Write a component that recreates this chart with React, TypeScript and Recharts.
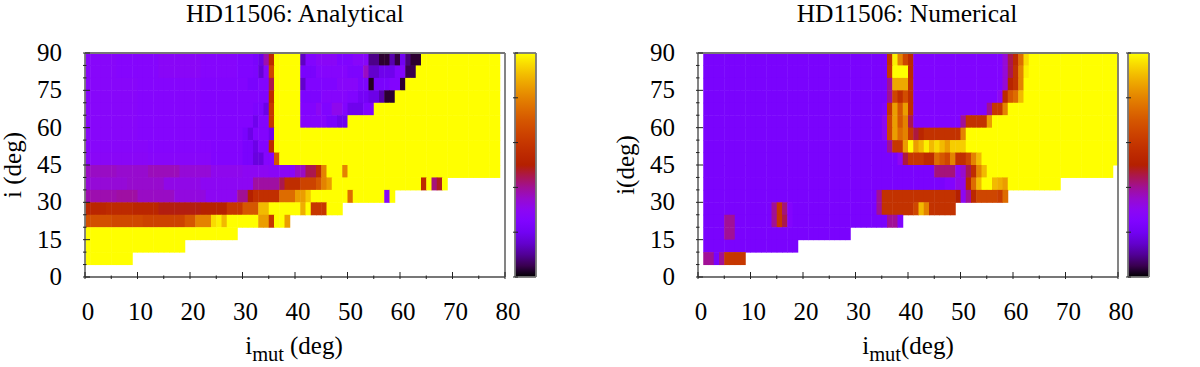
import { ScatterChart, Scatter, BarChart, Bar, XAxis, YAxis } from "recharts";

// inclination rows, lower edge in deg (each row is 5 deg tall)
const rowEdges = [85, 80, 75, 70, 65, 60, 55, 50, 45, 40, 35, 30, 25, 20, 15, 10, 5];

// each row is a list of [value, end column]; a run lasts until the end column (exclusive)
const a85 = [[2.8,6],[2.7,14],[2.9,22],[2.7,29],[2.5,32],[2.3,33],[1.8,34],[3.8,35],[5.5,36],[10,41],[1.4,42],[2.6,44],[2.9,48],[2.5,51],[2.8,54],[0.9,56],[0.3,58],[1.2,59],[0.4,60],[2,61],[0.8,62],[0.3,64],[10,79]];
const a80 = [[2.8,6],[2.7,14],[2.9,22],[2.7,29],[2.5,32],[2.4,33],[1.6,34],[2.8,35],[6.5,36],[10,41],[2.3,44],[2.7,50],[2.4,53],[3.6,54],[1.5,56],[1.9,59],[2.6,61],[0.5,63],[10,79]];
const a75 = [[2.8,10],[2.7,22],[2.6,31],[2.3,33],[2.6,35],[4.5,36],[10,41],[1.5,42],[2.5,48],[2.8,52],[2.4,54],[0.2,55],[2.3,58],[2.6,60],[0.3,61],[10,79]];
const a70 = [[2.8,10],[2.7,22],[2.6,33],[2.5,35],[5.5,36],[10,41],[2.4,45],[2.7,50],[2.5,52],[2.1,54],[1.8,56],[1.2,57],[0.3,59],[10,79]];
const a65 = [[2.8,10],[2.7,22],[2.6,32],[2.4,34],[1.8,35],[6,36],[10,41],[2.6,44],[3,45],[2.5,47],[3.1,49],[2.6,50],[1.9,53],[2.5,55],[10,79]];
const a60 = [[2.8,10],[2.7,22],[2.6,32],[1.9,33],[2.6,35],[6,36],[10,41],[2.7,46],[2.3,48],[1.9,50],[10,79]];
const a55 = [[2.8,10],[2.7,22],[2.6,30],[2.3,31],[1.8,32],[2.6,35],[1.9,36],[10,79]];
const a50 = [[2.8,12],[2.7,24],[2.6,30],[2.3,32],[1.8,33],[2.6,35],[5.5,36],[10,79]];
const a45 = [[2.9,12],[2.8,24],[2.6,30],[2.3,32],[1.7,34],[2.7,36],[7,37],[10,79]];
const a40 = [[3.6,6],[3.5,12],[3.7,18],[3.4,24],[3.1,30],[3,35],[2.9,40],[3.6,42],[4.5,44],[5.6,45],[8,46],[10,49],[8,50],[10,79]];
const a35 = [[3.4,8],[3.5,15],[3.2,22],[3,32],[3.9,37],[4.5,38],[5.6,41],[6.4,44],[7,45],[8,46],[8.5,47],[10,64],[5.5,65],[10,66],[4.2,67],[4.8,68],[10,69]];
const a30 = [[3.8,6],[3.9,10],[3.6,17],[3.3,23],[3,29],[4,31],[5,32],[5.7,37],[7.5,40],[8.5,42],[9.2,43],[10,50],[7.5,51],[10,57],[2.8,58],[10,59]];
const a25 = [[5.3,4],[5.5,9],[5.3,14],[4.9,22],[5.1,27],[6,30],[7,33],[9,35],[10,41],[8.8,42],[10,43],[6,46],[10,49]];
const a20 = [[6.8,5],[6.6,11],[6.4,19],[7,21],[8,24],[9.5,25],[9.8,26],[9,27],[10,33],[8.5,35],[6,36],[10,38],[8.5,39]];
const a15 = [[10,29]];
const a10 = [[10,19]];
const a5 = [[10,9]];
const analytical = [a85, a80, a75, a70, a65, a60, a55, a50, a45, a40, a35, a30, a25, a20, a15, a10, a5];

const b85 = [[2.3,36],[5.8,37],[9.8,38],[8,39],[6.5,40],[5.5,41],[2.5,58],[3.4,59],[4.5,60],[5.5,61],[7.5,62],[9.5,63],[10,80]];
const b80 = [[2.3,36],[6,37],[10,40],[5.5,41],[2.5,58],[3.4,59],[4.5,60],[5.8,61],[8,62],[9.8,63],[10,80]];
const b75 = [[2.3,36],[4,37],[8.7,40],[5.6,41],[2.5,58],[3.4,59],[5.2,60],[5.8,61],[8,62],[10,80]];
const b70 = [[2.3,36],[4,37],[6.5,38],[5.6,39],[6.7,40],[5.6,41],[2.5,57],[3,58],[5.5,59],[7,60],[7.5,61],[9,62],[10,80]];
const b65 = [[2.3,35],[2.5,36],[6,37],[8.5,38],[7,39],[8.5,40],[5.6,41],[2.5,55],[4,56],[6,58],[8,59],[10,80]];
const b60 = [[2.3,35],[3,36],[6.5,37],[8.5,38],[7,39],[8,40],[4.5,41],[2.5,50],[4,51],[5.8,55],[8.5,56],[10,80]];
const b55 = [[2.3,35],[3,36],[6.5,37],[8.5,38],[7.5,39],[8,40],[6,41],[4.6,42],[5.3,43],[5.8,50],[8,51],[10,80]];
const b50 = [[2.3,36],[4,37],[6,39],[8.5,40],[10,41],[8.5,42],[9,43],[9.8,44],[9,45],[9.5,46],[9,47],[8.5,48],[9.3,51],[10,80]];
const b45 = [[2.3,38],[3,39],[4.6,40],[6,43],[5.5,45],[7.5,46],[7,47],[6.5,48],[8,49],[5.7,51],[6.5,52],[8,53],[9,54],[10,80]];
const b40 = [[2.3,45],[4.2,49],[3,50],[3.5,51],[4.5,52],[5.6,53],[8,54],[9,55],[10,79]];
const b35 = [[2.3,47],[2.6,49],[3.2,51],[5.3,52],[7.5,53],[9,54],[10,56],[9,57],[8.8,58],[8.5,59],[10,69]];
const b30 = [[2.3,34],[4,35],[5.8,49],[5,50],[3,51],[4,52],[5.4,53],[6.5,57],[6.2,58],[7.5,59]];
const b25 = [[2.3,14],[4,15],[6,16],[4.2,17],[2.6,18],[2.3,34],[4,35],[5.8,41],[6.5,42],[9,43],[8,44],[5.8,49]];
const b20 = [[2.3,5],[4,7],[2.3,14],[4,15],[6,16],[4.5,17],[2.6,18],[2.3,36],[4,38],[2.5,39]];
const b15 = [[2.3,5],[4,7],[2.3,29]];
const b10 = [[2.3,19]];
const b5 = [[4,3],[2.3,4],[4,5],[6,9]];
const numerical = [b85, b80, b75, b70, b65, b60, b55, b50, b45, b40, b35, b30, b25, b20, b15, b10, b5];

const xTicks = [0, 5, 10, 15, 20, 25, 30, 35, 40, 45, 50, 55, 60, 65, 70, 75, 80];
const xMajor = [0, 10, 20, 30, 40, 50, 60, 70, 80];
const yTicks = [0, 5, 10, 15, 20, 25, 30, 35, 40, 45, 50, 55, 60, 65, 70, 75, 80, 85, 90];
const yMajor = [0, 15, 30, 45, 60, 75, 90];
const cbTicks = [0, 2, 4, 6, 8, 10];

const PLOT_W = 420;
const PLOT_H = 224;
const CELL_W = PLOT_W / 80;
const CELL_H = PLOT_H / 18;
const FRAME = "#777";
const TICK = "#222";
const serif = "'Liberation Serif', serif";

// gnuplot default pm3d palette (rgbformulae 7,5,15)
function palette(v: number) {
  const t = Math.min(1, Math.max(0, v / 10));
  const r = Math.round(255 * Math.sqrt(t));
  const g = Math.round(255 * t * t * t);
  const b = Math.round(255 * Math.max(0, Math.sin(2 * Math.PI * t)));
  return `rgb(${r},${g},${b})`;
}

function expand(rows: number[][][], start: number) {
  const out: { x: number; y: number; v: number }[] = [];
  rows.forEach((runs, r) => {
    let col = start;
    runs.forEach(([v, end]) => {
      for (; col < end; col++) out.push({ x: col + 0.5, y: rowEdges[r] + 2.5, v });
    });
  });
  return out;
}

function Cell(p: any) {
  return (
    <rect
      x={p.cx - CELL_W / 2}
      y={p.cy - CELL_H / 2}
      width={CELL_W + 0.5}
      height={CELL_H + 0.5}
      fill={palette(p.payload.v)}
    />
  );
}

function AxisTick(p: any) {
  const { x, y, payload, side, majors, label, len: majorLen = 7, fontSize = 25 } = p;
  const major = majors.includes(payload.value);
  const len = major ? majorLen : 3.5;
  const txt = { fontFamily: serif, fontSize, fill: "#000" };
  if (side === "bottom" || side === "top") {
    const dir = side === "bottom" ? -1 : 1;
    return (
      <g>
        <line x1={x} y1={y} x2={x} y2={y + dir * len} stroke={TICK} strokeWidth={1} />
        {label && major && (
          <text x={x + 3} y={y + 41} textAnchor="middle" {...txt}>
            {payload.value}
          </text>
        )}
      </g>
    );
  }
  const dir = side === "left" ? 1 : -1;
  return (
    <g>
      <line x1={x} y1={y} x2={x + dir * len} y2={y} stroke={TICK} strokeWidth={1} />
      {label && major && side === "left" && (
        <text x={x - 21} y={y + 8} textAnchor="end" {...txt}>
          {payload.value}
        </text>
      )}
      {label && major && side === "right" && (
        <text x={x + 23} y={y + 9} textAnchor="start" {...txt}>
          {payload.value}
        </text>
      )}
    </g>
  );
}

function HeatPanel({ data, left, axisLeft, title, titleX, xLabelX, xGap, yLabel, yLabelX }: any) {
  const txt = { fontFamily: serif, fill: "#000" };
  const line = { stroke: FRAME, strokeWidth: 1.8 };
  const xProps = { type: "number" as const, domain: [0, 80], ticks: xTicks, interval: 0, height: 1, tickSize: 0, tickLine: false, axisLine: line, zIndex: 700 };
  const yProps = { type: "number" as const, domain: [0, 90], ticks: yTicks, interval: 0, width: 1, tickSize: 0, tickLine: false, axisLine: line, zIndex: 700 };
  return (
    <div style={{ position: "absolute", left, top: 0 }}>
      <ScatterChart
        width={600}
        height={367}
        margin={{ top: 52, left: axisLeft - 1, right: 600 - axisLeft - PLOT_W - 1, bottom: 367 - 53 - PLOT_H - 1 }}
      >
        <XAxis {...xProps} dataKey="x" tick={(p: any) => <AxisTick {...p} side="bottom" majors={xMajor} label />} />
        <YAxis {...yProps} dataKey="y" tick={(p: any) => <AxisTick {...p} side="left" majors={yMajor} label />} />
        <XAxis {...xProps} xAxisId="top" orientation="top" tick={(p: any) => <AxisTick {...p} side="top" majors={xMajor} />} />
        <YAxis {...yProps} yAxisId="right" orientation="right" tick={(p: any) => <AxisTick {...p} side="right" majors={yMajor} />} />
        <Scatter data={data} shape={Cell} isAnimationActive={false} zIndex={100} />
        <text x={titleX} y={22} textAnchor="middle" fontSize={25.5} {...txt}>
          {title}
        </text>
        <text x={xLabelX} y={354} textAnchor="middle" fontSize={25} {...txt}>
          <tspan>i</tspan>
          <tspan dy={7} fontSize={20.5}>mut</tspan>
          <tspan dy={-7} dx={xGap}>(deg)</tspan>
        </text>
        <text
          x={yLabelX}
          y={165}
          textAnchor="middle"
          fontSize={25}
          transform={`rotate(-90 ${yLabelX} 165)`}
          {...txt}
        >
          {yLabel}
        </text>
      </ScatterChart>
    </div>
  );
}

const cbData = [{ name: "cb", top: 10 }];
const cbStops = [0, 5, 10, 15, 20, 25, 30, 35, 40, 45, 50, 55, 60, 65, 70, 75, 80, 85, 90, 95, 100];

function Colorbar({ left, id }: { left: number; id: string }) {
  const line = { stroke: FRAME, strokeWidth: 1.8 };
  const tickProps = { type: "number" as const, domain: [0, 10], ticks: cbTicks, interval: 0, width: 1, tickSize: 0, tickLine: false, axisLine: line, zIndex: 700 };
  return (
    <div style={{ position: "absolute", left, top: 0 }}>
      <BarChart
        data={cbData}
        width={90}
        height={367}
        margin={{ top: 52, left: 4, right: 63, bottom: 367 - 53 - PLOT_H - 1 }}
        barCategoryGap={0}
      >
        <defs>
          <linearGradient id={id} x1="0" y1="1" x2="0" y2="0">
            {cbStops.map((s) => (
              <stop key={s} offset={`${s}%`} stopColor={palette(s / 10)} />
            ))}
          </linearGradient>
        </defs>
        <XAxis dataKey="name" height={1} tick={false} tickLine={false} axisLine={line} zIndex={700} />
        <XAxis xAxisId="top" orientation="top" dataKey="name" height={1} tick={false} tickLine={false} axisLine={line} zIndex={700} />
        <Bar dataKey="top" fill={`url(#${id})`} isAnimationActive={false} zIndex={100} />
        <YAxis {...tickProps} tick={(p: any) => <AxisTick {...p} side="left" majors={cbTicks} len={5} />} />
        <YAxis
          {...tickProps}
          yAxisId="right"
          orientation="right"
          tick={(p: any) => <AxisTick {...p} side="right" majors={cbTicks} len={5} label />}
        />
      </BarChart>
    </div>
  );
}

export default function App() {
  const analyticalCells = expand(analytical, 0);
  const numericalCells = expand(numerical, 1);
  return (
    <div style={{ position: "absolute", left: 0, top: 0, width: 1200, height: 367, background: "#fff", overflow: "hidden" }}>
      <HeatPanel
        data={analyticalCells}
        left={0}
        axisLeft={85}
        title="HD11506: Analytical"
        titleX={295}
        xLabelX={294}
        xGap={6}
        yLabel="i (deg)"
        yLabelX={21}
      />
      <Colorbar left={510} id="cbA" />
      <HeatPanel
        data={numericalCells}
        left={600}
        axisLeft={98}
        title="HD11506: Numerical"
        titleX={307}
        xLabelX={308}
        xGap={0}
        yLabel="i(deg)"
        yLabelX={34}
      />
      <Colorbar left={1123} id="cbB" />
    </div>
  );
}
